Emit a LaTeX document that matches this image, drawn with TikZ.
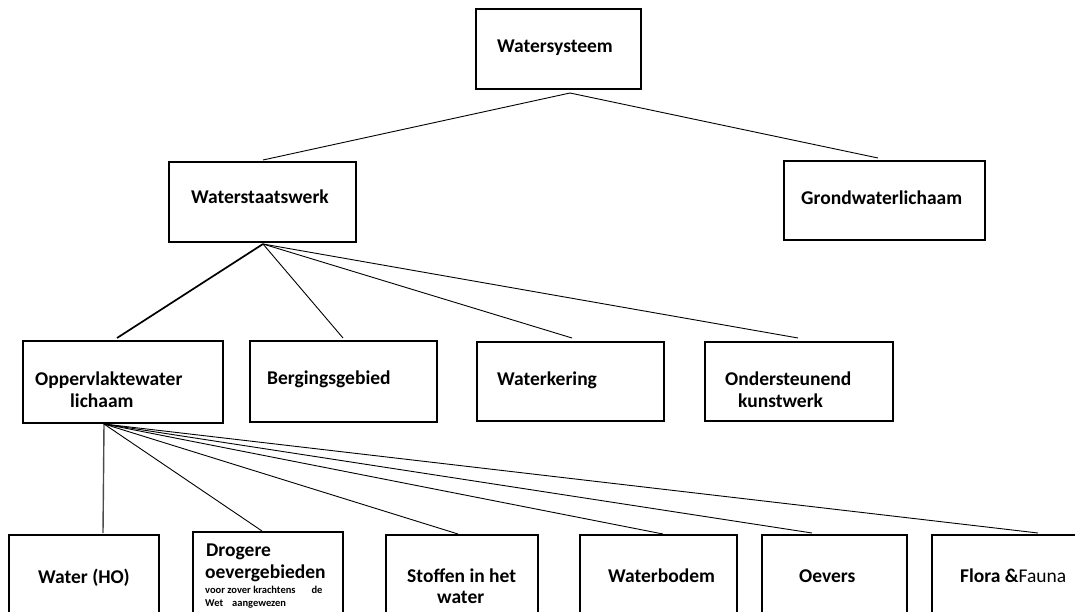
\documentclass[tikz,border=0pt]{standalone}
\usepackage{fontspec}
\setmainfont{Carlito}
\begin{document}
\begin{tikzpicture}[x=1pt,y=-1pt,
  box/.style={draw=black,line width=1.5pt,rectangle,inner sep=0pt},
  txt/.style={inner sep=0pt,anchor=base west,font=\fontsize{19.5}{22}\selectfont\bfseries,align=left},
  small/.style={txt,font=\fontsize{10.5}{12}\selectfont\bfseries},
  conn/.style={draw=black,line width=0.9pt},
  thick conn/.style={draw=black,line width=1.7pt}]
\useasboundingbox (0,0) rectangle (1075,612);
\begin{scope}
\clip (0,0) rectangle (1075,612);
% boxes
\node[box,minimum width=165pt,minimum height=80pt] (sys) at (558.5,49) {};
\node[box,minimum width=187pt,minimum height=80pt] (wsw) at (262.5,202) {};
\node[box,minimum width=201pt,minimum height=79pt] (gwl) at (884.5,200.5) {};
\node[box,minimum width=200pt,minimum height=82pt] (owl) at (123,382) {};
\node[box,minimum width=187pt,minimum height=81pt] (bgg) at (343.5,381.5) {};
\node[box,minimum width=187pt,minimum height=79pt] (wkr) at (570.5,381.5) {};
\node[box,minimum width=188pt,minimum height=79pt] (okw) at (799,381.5) {};
\node[box,minimum width=150pt,minimum height=90pt] (h2o) at (84,580) {};
\node[box,minimum width=150pt,minimum height=93pt] (dro) at (268,578.5) {};
\node[box,minimum width=152pt,minimum height=90pt] (sto) at (462,580) {};
\node[box,minimum width=157pt,minimum height=90pt] (wbd) at (658.5,580) {};
\node[box,minimum width=145pt,minimum height=90pt] (oev) at (834.5,580) {};
\node[box,minimum width=160pt,minimum height=90pt] (flo) at (1012,580) {};
\end{scope}
% texts
\node[txt] (sys-t) at (497,53) {Watersysteem};
\node[txt] (wsw-t) at (191,204) {Waterstaatswerk};
\node[txt] (gwl-t) at (801,205) {Grondwaterlichaam};
\node[txt] (owl-t1) at (35,385) {Oppervlaktewater};
\node[txt] (owl-t2) at (70,407) {lichaam};
\node[txt] (bgg-t) at (267,384) {Bergingsgebied};
\node[txt] (wkr-t) at (497,385) {Waterkering};
\node[txt] (okw-t1) at (725,385) {Ondersteunend};
\node[txt] (okw-t2) at (738,407) {kunstwerk};
\node[txt] (h2o-t) at (38,583) {Water (HO)};
\node[txt] (dro-t1) at (206,556) {Drogere};
\node[txt] (dro-t2) at (205,578) {oevergebieden};
\node[small] (dro-t3) at (205,593) {voor zover krachtens\hspace{16pt}de};
\node[small] (dro-t4) at (205,606) {Wet\hspace{9pt}aangewezen};
\node[txt] (sto-t1) at (407,582) {Stoffen in het};
\node[txt] (sto-t2) at (437,603) {water};
\node[txt] (wbd-t) at (608,582) {Waterbodem};
\node[txt] (oev-t) at (799,582) {Oevers};
\node[txt] (flo-t) at (960,582) {Flora \&\mdseries Fauna};
% connector points
\coordinate (a0) at (570,93);
\coordinate (a1) at (263,244);
\coordinate (a2) at (104,424);
\coordinate (e-wsw) at (263,160);
\coordinate (e-gwl) at (878,158);
\coordinate (e-owl) at (117,338);
\coordinate (e-bgg) at (343,338);
\coordinate (e-wkr) at (572,338);
\coordinate (e-okw) at (798,338);
\coordinate (e-h2o) at (103,533);
\coordinate (e-dro) at (262,531);
\coordinate (e-sto) at (458,534);
\coordinate (e-wbd) at (663,534);
\coordinate (e-oev) at (812,533);
\coordinate (e-flo) at (1038,533);
% connectors
\draw[conn] (e-wsw) -- (a0) -- (e-gwl);
\draw[thick conn] (a1) -- (e-owl);
\draw[conn] (a1) -- (e-bgg);
\draw[conn] (a1) -- (e-wkr);
\draw[conn] (a1) -- (e-okw);
\draw[conn,line width=1.4pt,draw=black!70] (a2) -- (e-h2o);
\draw[conn] (a2) -- (e-dro);
\draw[conn] (a2) -- (e-sto);
\draw[conn] (a2) -- (e-wbd);
\draw[conn] (a2) -- (e-oev);
\draw[conn] (a2) -- (e-flo);
\end{tikzpicture}
\end{document}
